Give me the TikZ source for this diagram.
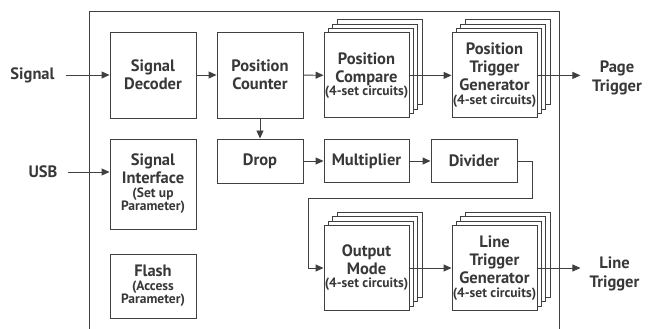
\documentclass[tikz,border=0pt]{standalone}
\usepackage{fontspec}
\setmainfont{PT Sans}
\usepackage{xcolor}
\usetikzlibrary{arrows.meta, positioning, shadows}
\definecolor{linegray}{HTML}{404040}
\definecolor{textgray}{HTML}{383838}
\newcommand{\subtxt}{\fontsize{13.5}{15}\selectfont}

\begin{document}
\begin{tikzpicture}[x=1pt, y=-1pt,
    box/.style={draw=linegray, fill=white, line width=0.9pt, rectangle, align=center,
                inner sep=0pt, minimum width=86pt, minimum height=86pt,
                font=\fontsize{16.5}{18}\selectfont\bfseries, text=textgray},
    stackbox/.style={box, minimum width=85pt, minimum height=85pt,
                copy shadow={shadow xshift=13.2pt, shadow yshift=13.2pt, fill=white, draw=linegray, line width=0.9pt},
                copy shadow={shadow xshift=8.8pt, shadow yshift=8.8pt, fill=white, draw=linegray, line width=0.9pt},
                copy shadow={shadow xshift=4.4pt, shadow yshift=4.4pt, fill=white, draw=linegray, line width=0.9pt}},
    lbl/.style={align=center, inner sep=0pt, font=\fontsize{16.5}{18.5}\selectfont\bfseries, text=textgray},
    arrow/.style={-{Triangle[length=8pt, width=7pt]}, draw=linegray, line width=0.9pt},
    frame/.style={draw=linegray, line width=0.9pt}
]
\useasboundingbox (0,0) rectangle (654,329);

% ====================== FRAME ======================
\draw[frame] (89,329) |- (559,11) -- (559,329);

% ====================== TOP ROW ======================
\node[box] (dec) at (153,75)    {Signal\\Decoder};
\node[box] (cnt) at (260,75)    {Position\\Counter};
\node[stackbox] (cmp) at (366.5,75.4) {Position\\Compare\\[-5pt]{\subtxt(4-set circuits)}};
\node[stackbox] (ptg) at (494.5,75.4) {Position\\Trigger\\Generator\\[-4pt]{\subtxt(4-set circuits)}};

% ====================== MIDDLE ROW ======================
\node[box, minimum height=90pt] (sif) at (153,184) {Signal\\Interface\\[-4pt]{\subtxt(Set up}\\[-5pt]{\subtxt Parameter)}};
\node[box, minimum height=44pt] (drop) at (260,161) {Drop};
\node[box, minimum width=85pt, minimum height=43pt] (mul) at (366.5,161) {Multiplier};
\node[box, minimum height=43pt] (div) at (474,161) {Divider};

% ====================== BOTTOM ROW ======================
\node[box, minimum height=64pt] (flash) at (153,286) {Flash\\[-4pt]{\subtxt(Access}\\[-5pt]{\subtxt Parameter)}};
\node[stackbox] (om)  at (366.5,268) {Output\\Mode\\[-5pt]{\subtxt(4-set circuits)}};
\node[stackbox] (ltg) at (494.5,268) {Line\\Trigger\\Generator\\[-4pt]{\subtxt(4-set circuits)}};

% ====================== OUTSIDE LABELS ======================
\node[lbl] (signal) at (32.5,75)  {Signal};
\node[lbl] (usb)    at (43,172)   {USB};
\node[lbl] (page)   at (617,78)   {Page\\Trigger};
\node[lbl] (line)   at (614.5,274) {Line\\Trigger};
\coordinate (bend) at (308,198);

% ====================== ARROWS ======================
\draw[arrow, shorten <=11pt] (signal) -- (dec);
\draw[arrow, shorten <=10pt] (usb) -- (usb -| sif.west);
\draw[arrow] (dec) -- (cnt);
\draw[arrow] (cnt) -- (cmp);
\draw[arrow] (cmp) -- (ptg);
\draw[arrow] (ptg.east) -- ++(43,0);
\draw[arrow] (cnt) -- (drop);
\draw[arrow] (drop) -- (mul);
\draw[arrow] (mul) -- (div);
\draw[arrow] (div.east) -- ++(15,0) |- (bend) |- (om.west);
\draw[arrow] (om) -- (ltg);
\draw[arrow] (ltg.east) -- ++(43,0);

\end{tikzpicture}
\end{document}
